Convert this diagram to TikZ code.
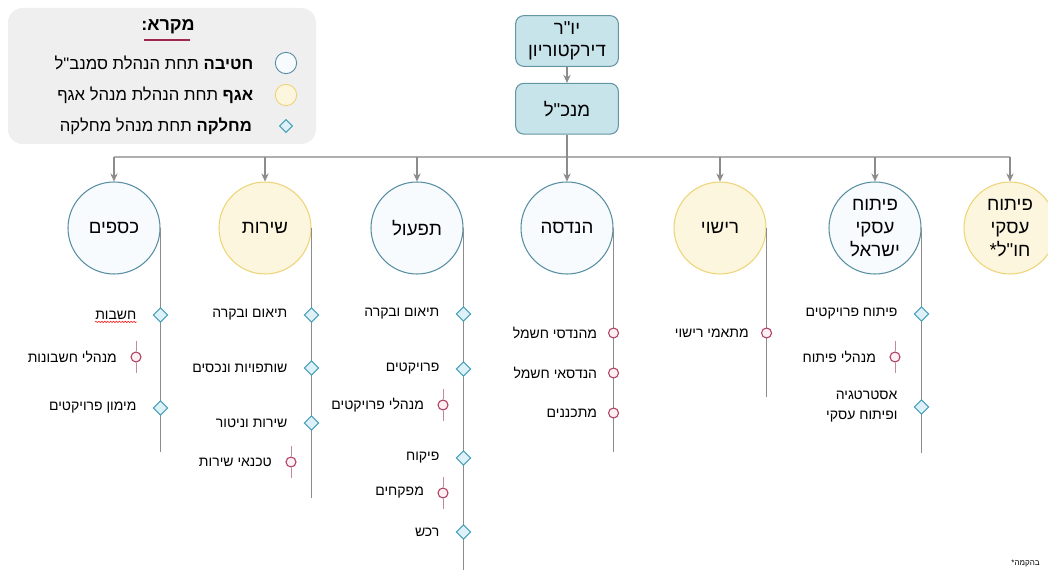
\documentclass[tikz,border=0pt]{standalone}
\usepackage{fontspec}
\setmainfont[Script=Hebrew, Ligatures=TeXOff]{Liberation Sans}
\TeXXeTstate=1
\usepackage{tikz}
\usetikzlibrary{shapes.geometric}
\usetikzlibrary{arrows.meta}
\usetikzlibrary{positioning}
\usetikzlibrary{decorations.pathmorphing}

\definecolor{chativaline}{RGB}{88,142,162}
\definecolor{chativafill}{RGB}{247,251,253}
\definecolor{agafline}{RGB}{238,212,120}
\definecolor{agaffill}{RGB}{253,246,222}
\definecolor{machlakaline}{RGB}{72,160,184}
\definecolor{machlakafill}{RGB}{222,241,248}
\definecolor{tafkidline}{RGB}{176,62,96}
\definecolor{tafkidfill}{RGB}{253,240,244}
\definecolor{boxline}{RGB}{100,150,162}
\definecolor{boxfill}{RGB}{199,228,234}
\definecolor{legendfill}{RGB}{239,239,239}
\definecolor{connline}{RGB}{140,140,140}
\definecolor{busline}{RGB}{175,175,175}
\definecolor{tickline}{RGB}{190,140,155}
\definecolor{titleline}{RGB}{156,40,80}

\newcommand{\heb}[1]{\beginR #1\endR}

\begin{document}
\begin{tikzpicture} [x=0.75pt, y=-0.75pt,
    every node/.style={inner sep=0pt, font=\fontsize{10.5}{13}\selectfont},
    hanhala/.style={draw=boxline, fill=boxfill, line width=0.8pt, rounded corners=6pt, minimum width=77pt, minimum height=38pt, align=center, font=\fontsize{14}{16}\selectfont},
    chativa/.style={circle, draw=chativaline, fill=chativafill, line width=0.8pt, minimum size=69pt, align=center, font=\fontsize{14}{17}\selectfont},
    agaf/.style={chativa, draw=agafline, fill=agaffill},
    machlaka/.style={diamond, draw=machlakaline, fill=machlakafill, line width=0.8pt, minimum size=11pt},
    tafkid/.style={circle, draw=tafkidline, fill=tafkidfill, line width=0.8pt, minimum size=7.5pt},
    conn/.style={draw=connline, line width=0.8pt},
    arr/.style={conn, -{Stealth[length=6pt,width=5.5pt]}},
    tick/.style={draw=tickline, line width=0.6pt},
    spell/.style={draw=red!85, line width=0.5pt, decorate, decoration={snake, amplitude=0.5pt, segment length=2.2pt}}]
    \useasboundingbox (0,0) rectangle (1048,573);

    \node (legend) [fill=legendfill, rounded corners=11pt, minimum width=231pt, minimum height=102pt] at (162,76) {};
    \node (title) [font=\fontsize{13.5}{16}\selectfont\bfseries] at (168,27) {\heb{מקרא:}};
    \draw [titleline, line width=1.5pt] ([xshift=2pt, yshift=-4pt]title.south west) -- ([xshift=-4pt, yshift=-4pt]title.south east);
    \node (key-chativa) [chativa, minimum size=16pt, line width=0.7pt] at (286,63) {};
    \node (key-agaf) [agaf, minimum size=16pt, line width=0.7pt] at (286,95) {};
    \node (key-machlaka) [machlaka, minimum size=10pt] at (286,126) {};
    \node (key-chativa-lbl) [font=\fontsize{12.5}{15}\selectfont, left = 16pt of key-chativa] {\heb{\textbf{חטיבה} תחת הנהלת סמנב"ל}};
    \node (key-agaf-lbl) [font=\fontsize{12.5}{15}\selectfont, left = 16pt of key-agaf] {\heb{\textbf{אגף} תחת הנהלת מנהל אגף}};
    \node (key-machlaka-lbl) [font=\fontsize{12.5}{15}\selectfont, left = 20pt of key-machlaka] {\heb{\textbf{מחלקה} תחת מנהל מחלקה}};

    \node (yor) [hanhala] at (567,41) {\heb{יו"ר}\\\heb{דירקטוריון}};
    \node (mankal) [hanhala, below = 12pt of yor] {\heb{מנכ"ל}};

    \coordinate (bus) at (0,157);
    \node (ksafim) [chativa] at (114,228) {\heb{כספים}};
    \node (sherut) [agaf] at (265,228) {\heb{שירות}};
    \node (tiful) [chativa] at (417,228) {\heb{תפעול}};
    \node (handasa) [chativa] at (567,228) {\heb{הנדסה}};
    \node (rishui) [agaf] at (720,228) {\heb{רישוי}};
    \node (pituach) [chativa] at (875,228) {\heb{פיתוח}\\\heb{עסקי}\\\heb{ישראל}};
    \node (chul) [agaf] at (1010,228) {\heb{פיתוח}\\\heb{עסקי}\\\heb{חו"ל*}};

    \draw [arr] (yor) -- (mankal);
    \draw [conn, draw=busline, line width=1.2pt] (ksafim |- bus) -- (chul |- bus);
    \draw [arr] (mankal) -- (handasa);
    \draw [arr] (ksafim |- bus) -- (ksafim);
    \draw [arr] (sherut |- bus) -- (sherut);
    \draw [arr] (tiful |- bus) -- (tiful);
    \draw [arr] (rishui |- bus) -- (rishui);
    \draw [arr] (pituach |- bus) -- (pituach);
    \draw [arr] (chul |- bus) -- (chul);

    \draw [conn] (ksafim.east) -- (ksafim.east |- 0,452);
    \draw [conn] (sherut.east) -- (sherut.east |- 0,498);
    \draw [conn] (tiful.east) -- (tiful.east |- 0,570);
    \draw [conn] (handasa.east) -- (handasa.east |- 0,452);
    \draw [conn] (rishui.east) -- (rishui.east |- 0,397);
    \draw [conn] (pituach.east) -- (pituach.east |- 0,453);

    \node (ksafim-a) [machlaka] at (ksafim.east |- 0,315) {};
    \node (ksafim-a-lbl) [left = 12pt of ksafim-a] {\heb{חשבות}};
    \draw [spell] ([yshift=-1.8pt]ksafim-a-lbl.south west) -- ([yshift=-1.8pt]ksafim-a-lbl.south east);
    \node (ksafim-b) [tafkid] at (136,357) {};
    \draw [tick] (ksafim-b.north) -- ++(0,-10) (ksafim-b.south) -- ++(0,10);
    \node (ksafim-b-lbl) [left = 10pt of ksafim-b] {\heb{מנהלי חשבונות}};
    \node (ksafim-c) [machlaka] at (ksafim.east |- 0,408) {};
    \node (ksafim-c-lbl) [left = 12pt of ksafim-c] {\heb{מימון פרויקטים}};

    \node (sherut-a) [machlaka] at (sherut.east |- 0,315) {};
    \node (sherut-a-lbl) [left = 12pt of sherut-a] {\heb{תיאום ובקרה}};
    \node (sherut-b) [machlaka] at (sherut.east |- 0,368) {};
    \node (sherut-b-lbl) [left = 12pt of sherut-b] {\heb{שותפויות ונכסים}};
    \node (sherut-c) [machlaka] at (sherut.east |- 0,423) {};
    \node (sherut-c-lbl) [left = 12pt of sherut-c] {\heb{שירות וניטור}};
    \node (sherut-d) [tafkid] at (291,462) {};
    \draw [tick] (sherut-d.north) -- ++(0,-10) (sherut-d.south) -- ++(0,10);
    \node (sherut-d-lbl) [left = 10pt of sherut-d] {\heb{טכנאי שירות}};

    \node (tiful-a) [machlaka] at (tiful.east |- 0,314) {};
    \node (tiful-a-lbl) [left = 12pt of tiful-a] {\heb{תיאום ובקרה}};
    \node (tiful-b) [machlaka] at (tiful.east |- 0,369) {};
    \node (tiful-b-lbl) [left = 12pt of tiful-b] {\heb{פרויקטים}};
    \node (tiful-c) [tafkid] at (443,405) {};
    \draw [tick] (tiful-c.north) -- ++(0,-10) (tiful-c.south) -- ++(0,10);
    \node (tiful-c-lbl) [left = 10pt of tiful-c] {\heb{מנהלי פרויקטים}};
    \node (tiful-d) [machlaka] at (tiful.east |- 0,458) {};
    \node (tiful-d-lbl) [left = 12pt of tiful-d] {\heb{פיקוח}};
    \node (tiful-e) [tafkid] at (443,493) {};
    \draw [tick] (tiful-e.north) -- ++(0,-10) (tiful-e.south) -- ++(0,10);
    \node (tiful-e-lbl) [left = 10pt of tiful-e] {\heb{מפקחים}};
    \node (tiful-f) [machlaka] at (tiful.east |- 0,532) {};
    \node (tiful-f-lbl) [left = 12pt of tiful-f] {\heb{רכש}};

    \node (handasa-a) [tafkid] at (handasa.east |- 0,333) {};
    \node (handasa-a-lbl) [left = 8pt of handasa-a] {\heb{מהנדסי חשמל}};
    \node (handasa-b) [tafkid] at (handasa.east |- 0,373) {};
    \node (handasa-b-lbl) [left = 8pt of handasa-b] {\heb{הנדסאי חשמל}};
    \node (handasa-c) [tafkid] at (handasa.east |- 0,413) {};
    \node (handasa-c-lbl) [left = 8pt of handasa-c] {\heb{מתכננים}};

    \node (rishui-a) [tafkid] at (rishui.east |- 0,333) {};
    \node (rishui-a-lbl) [left = 9pt of rishui-a] {\heb{מתאמי רישוי}};

    \node (pituach-a) [machlaka] at (pituach.east |- 0,314) {};
    \node (pituach-a-lbl) [left = 12pt of pituach-a] {\heb{פיתוח פרויקטים}};
    \node (pituach-b) [tafkid] at (895,357) {};
    \draw [tick] (pituach-b.north) -- ++(0,-10) (pituach-b.south) -- ++(0,10);
    \node (pituach-b-lbl) [left = 10pt of pituach-b] {\heb{מנהלי פיתוח}};
    \node (pituach-c) [machlaka] at (pituach.east |- 0,407) {};
    \node (pituach-c-lbl) [left = 12pt of pituach-c, align=right, font=\fontsize{10.5}{15}\selectfont] {\heb{אסטרטגיה}\\\heb{ופיתוח עסקי}};

    \node (note) [anchor=east, font=\fontsize{6}{7}\selectfont] at (1040,563) {\heb{בהקמה*}};
  \end{tikzpicture}
\end{document}
